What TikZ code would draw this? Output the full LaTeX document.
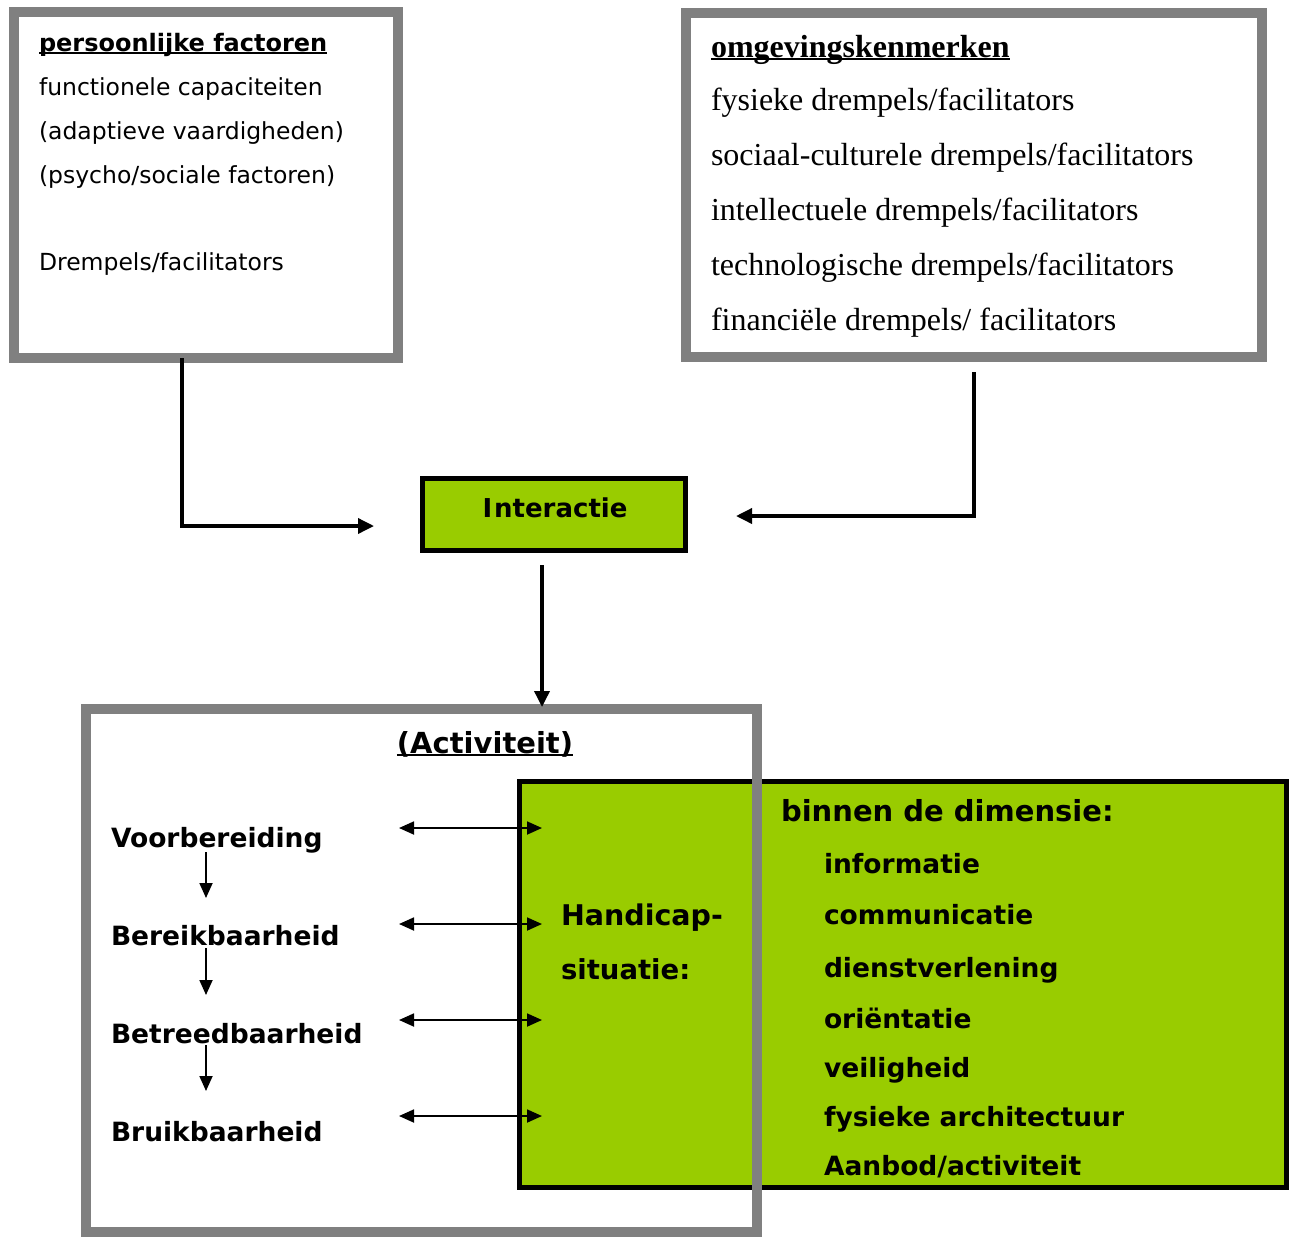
\documentclass[tikz,border=0pt]{standalone}
\usepackage{fontspec}
\setmainfont{DejaVu Sans}
\newfontfamily\seriffont{Liberation Serif}
\usetikzlibrary{arrows.meta,calc}
\definecolor{lime}{HTML}{99CC00}
\definecolor{framegray}{HTML}{808080}
\newcommand\ulin[2]{\setbox0\hbox{#2}\rlap{\rule[-3pt]{\wd0}{#1}}\box0}
\begin{document}
\begin{tikzpicture}[x=1pt,y=-1pt,
  graybox/.style={draw=framegray, line width=10pt, outer sep=0pt, inner sep=0pt, anchor=north west},
  greenbox/.style={draw=black, fill=lime, line width=5pt, outer sep=0pt, inner sep=0pt, anchor=north west},
  lbl/.style={anchor=base west, inner sep=0pt, outer sep=0pt},
  sansA/.style={font=\fontsize{23.5}{28}\selectfont},
  sansB/.style={font=\fontsize{26.5}{30}\selectfont\bfseries},
  serifA/.style={font=\fontsize{32}{36}\selectfont\seriffont},
  thickarrow/.style={line width=3.5pt, -{Triangle[length=16pt,width=15pt]}},
  thinarrow/.style={line width=1.8pt, -{Triangle[length=15pt,width=13pt]}},
  dblarrow/.style={line width=1.8pt, {Triangle[length=15pt,width=13pt]}-{Triangle[length=15pt,width=13pt]}},
]
\useasboundingbox (0,0) rectangle (1292,1237);
\fill[white] (0,0) rectangle (1292,1237);

% top-left box
\node[graybox, minimum width=384pt, minimum height=346pt] (pers) at (14,12) {};
\node[lbl, sansA, font=\fontsize{24}{28}\selectfont\bfseries] (p0) at (39,51) {\ulin{1.8pt}{persoonlijke factoren}};
\node[lbl, sansA] (p1) at (39,95) {functionele capaciteiten};
\node[lbl, sansA] (p2) at (39,139) {(adaptieve vaardigheden)};
\node[lbl, sansA] (p3) at (39,183) {(psycho/sociale factoren)};
\node[lbl, sansA] (p4) at (39,270) {Drempels/facilitators};

% top-right box
\node[graybox, minimum width=576pt, minimum height=344pt] (omg) at (686,13) {};
\node[lbl, serifA, font=\fontsize{32}{36}\selectfont\seriffont\bfseries] (o0) at (711,57) {\ulin{2.2pt}{omgevingskenmerken}};
\node[lbl, serifA] (o1) at (711,110) {fysieke drempels/facilitators};
\node[lbl, serifA] (o2) at (711,165) {sociaal-culturele drempels/facilitators};
\node[lbl, serifA] (o3) at (711,220) {intellectuele drempels/facilitators};
\node[lbl, serifA] (o4) at (711,275) {technologische drempels/facilitators};
\node[lbl, serifA] (o5) at (711,330) {financiële drempels/ facilitators};

% Interactie
\node[greenbox, minimum width=263pt, minimum height=72pt] (inter) at (422,478) {};
\node[anchor=base, inner sep=0pt, font=\fontsize{26}{30}\selectfont\bfseries] (intert) at (555,517) {I\kern2pt nteractie};

\coordinate (a1end) at (374,526);
\coordinate (a2end) at (736,516);
\draw[thickarrow] ([xshift=-24pt]pers.south) |- (a1end);
\draw[thickarrow] ([yshift=-15pt]omg.south) |- (a2end);

% green situation box
\node[greenbox, minimum width=767pt, minimum height=406pt] (hs) at (519,781) {};

% activity frame (drawn over the green box)
\node[graybox, minimum width=671pt, minimum height=523pt] (act) at (86,709) {};

\draw[thickarrow] ([xshift=-11.5pt,yshift=-15pt]inter.south) -- ([xshift=-11.5pt,yshift=2pt]inter.south |- act.north);

\node[anchor=base, inner sep=0pt, font=\fontsize{29}{32}\selectfont\bfseries] (acttitle) at (485,753) {\ulin{2pt}{(Activiteit)}};

\node[lbl, sansB] (v1) at (111,847) {Voorbereiding};
\node[lbl, sansB] (v2) at (111,945) {Bereikbaarheid};
\node[lbl, sansB] (v3) at (111,1043) {Betreedbaarheid};
\node[lbl, sansB] (v4) at (111,1141) {Bruikbaarheid};

\draw[thinarrow] ($(v1.base west)+(95,5)$) -- ($(v2.base west)+(95,-47)$);
\draw[thinarrow] ($(v2.base west)+(95,3)$) -- ($(v3.base west)+(95,-48)$);
\draw[thinarrow] ($(v3.base west)+(95,2)$) -- ($(v4.base west)+(95,-50)$);

\foreach \v/\dy in {v1/-19,v2/-21,v3/-23,v4/-25}{
  \draw[dblarrow] ($(\v.base west)+(288,\dy)$) -- ($(\v.base west -| hs.west)+(23,\dy)$);
}

\node[lbl, font=\fontsize{28.5}{30}\selectfont\bfseries] (h1) at (561,925) {Handicap-};
\node[lbl, font=\fontsize{27.5}{30}\selectfont\bfseries] (h2) at (561,979) {situatie:};

\node[lbl, font=\fontsize{29}{30}\selectfont\bfseries] (d0) at (781,821) {binnen de dimensie:};
\node[lbl, sansB] (d1) at (824,873) {informatie};
\node[lbl, sansB] (d2) at (824,924) {communicatie};
\node[lbl, sansB] (d3) at (824,977) {dienstverlening};
\node[lbl, sansB] (d4) at (824,1028) {oriëntatie};
\node[lbl, sansB] (d5) at (824,1077) {veiligheid};
\node[lbl, sansB] (d6) at (824,1126) {fysieke architectuur};
\node[lbl, sansB] (d7) at (824,1175) {Aanbod/activiteit};
\end{tikzpicture}
\end{document}
